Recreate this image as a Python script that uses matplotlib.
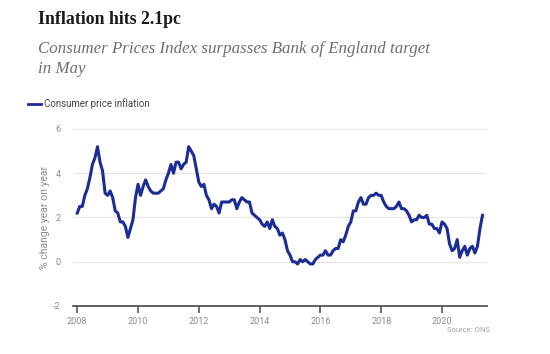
import numpy as np
import matplotlib
matplotlib.use("Agg")
import matplotlib.pyplot as plt

# UK CPI, % change year on year, monthly Jan 2008 - May 2021
CPI = [
    2.2, 2.5, 2.5, 3.0, 3.3, 3.8, 4.4, 4.7, 5.2, 4.5, 4.1, 3.1,  # 2008
    3.0, 3.2, 2.9, 2.3, 2.2, 1.8, 1.8, 1.6, 1.1, 1.5, 1.9, 2.9,  # 2009
    3.5, 3.0, 3.4, 3.7, 3.4, 3.2, 3.1, 3.1, 3.1, 3.2, 3.3, 3.7,  # 2010
    4.0, 4.4, 4.0, 4.5, 4.5, 4.2, 4.4, 4.5, 5.2, 5.0, 4.8, 4.2,  # 2011
    3.6, 3.4, 3.5, 3.0, 2.8, 2.4, 2.6, 2.5, 2.2, 2.7, 2.7, 2.7,  # 2012
    2.7, 2.8, 2.8, 2.4, 2.7, 2.9, 2.8, 2.7, 2.7, 2.2, 2.1, 2.0,  # 2013
    1.9, 1.7, 1.6, 1.8, 1.5, 1.9, 1.6, 1.5, 1.2, 1.3, 1.0, 0.5,  # 2014
    0.3, 0.0, 0.0, -0.1, 0.1, 0.0, 0.1, 0.0, -0.1, -0.1, 0.1, 0.2,  # 2015
    0.3, 0.3, 0.5, 0.3, 0.3, 0.5, 0.6, 0.6, 1.0, 0.9, 1.2, 1.6,  # 2016
    1.8, 2.3, 2.3, 2.7, 2.9, 2.6, 2.6, 2.9, 3.0, 3.0, 3.1, 3.0,  # 2017
    3.0, 2.7, 2.5, 2.4, 2.4, 2.4, 2.5, 2.7, 2.4, 2.4, 2.3, 2.1,  # 2018
    1.8, 1.9, 1.9, 2.1, 2.0, 2.0, 2.1, 1.7, 1.7, 1.5, 1.5, 1.3,  # 2019
    1.8, 1.7, 1.5, 0.8, 0.5, 0.6, 1.0, 0.2, 0.5, 0.7, 0.3, 0.6,  # 2020
    0.7, 0.4, 0.7, 1.5, 2.1,                                      # 2021
]
START_YEAR = 2008
YEAR_TICKS = [2008, 2010, 2012, 2014, 2016, 2018, 2020]
Y_TICKS = [-2, 0, 2, 4, 6]

TITLE = "Inflation hits 2.1pc"
SUBTITLE = "Consumer Prices Index surpasses Bank of England target\nin May"
LEGEND = "Consumer price inflation"
Y_LABEL = "% change year on year"
SOURCE = "Source: ONS"

LINE_COLOR = "#1b2d94"
GREY = "#8a8a8a"
SANS = "Roboto"

x = START_YEAR + np.arange(len(CPI)) / 12.0

fig = plt.figure(figsize=(5.5, 3.54), dpi=100)
ax = fig.add_axes([0.1327, 0.1356, 0.7527, 0.5])

ax.plot(x, CPI, color=LINE_COLOR, lw=2.2, solid_joinstyle="round", zorder=3)

ax.set_xlim(2007.86, 2021.48)
ax.set_ylim(-2, 6)
ax.set_yticks(Y_TICKS)
ax.set_xticks(YEAR_TICKS)
ax.set_xticklabels([str(t) for t in YEAR_TICKS], family=SANS, fontsize=6.5, color=GREY)
ax.set_yticklabels([str(t) for t in Y_TICKS], family=SANS, fontsize=6.5, color=GREY)

for v in Y_TICKS[1:]:
    ax.axhline(v, color="#e6e6e6", lw=0.8, zorder=1)

for s in ["top", "right", "left"]:
    ax.spines[s].set_visible(False)
ax.spines["bottom"].set_color("#555555")
ax.spines["bottom"].set_linewidth(1.3)
ax.tick_params(axis="x", direction="out", length=5, width=1.2, color="#555555", pad=3)
ax.tick_params(axis="y", length=0, pad=9)

ax.set_ylabel(Y_LABEL, family=SANS, fontsize=7.5, color=GREY, labelpad=2)

fig.text(38 / 550, 1 - 20 / 354, TITLE, family="Liberation Serif", weight="bold",
         fontsize=12.8, color="#1a1a1a", va="center", ha="left")
fig.text(38 / 550, 1 - 59 / 354, SUBTITLE, family="Liberation Serif", style="italic",
         fontsize=12.2, color="#6e6e6e", va="center", ha="left", linespacing=1.4)

fig.add_artist(plt.Line2D([28 / 550, 41 / 550], [1 - 104 / 354] * 2, color=LINE_COLOR, lw=2))
fig.text(44 / 550, 1 - 104 / 354, LEGEND, family=SANS, fontsize=7, color="#444444",
         va="center", ha="left")

fig.text(490 / 550, 1 - 330 / 354, SOURCE, family=SANS, fontsize=5.5, color="#a0a0a0",
         va="center", ha="right")

fig.savefig("out.png", dpi=100, facecolor="white")
